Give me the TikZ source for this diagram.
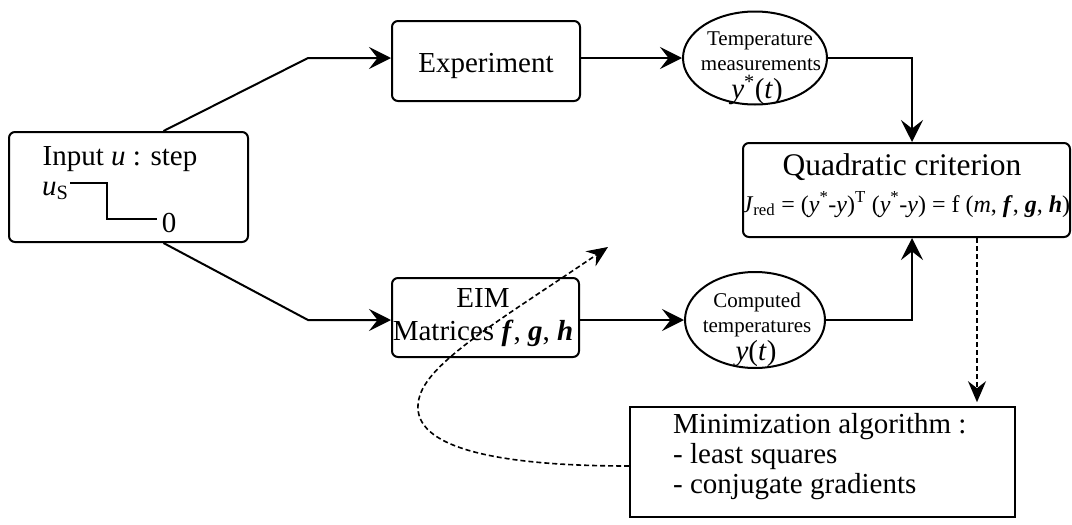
\documentclass[tikz,border=0pt]{standalone}
\usepackage{fontspec}
\setmainfont{Liberation Serif}
\usetikzlibrary{arrows.meta, shapes.geometric, positioning}

\begin{document}
\begin{tikzpicture}[x=1pt, y=-1pt,
	box/.style={draw, line width=2pt, rounded corners=6pt, inner sep=0pt},
	plainbox/.style={draw, line width=1.6pt, inner sep=0pt},
	oval/.style={draw, ellipse, line width=2pt, inner sep=0pt},
	big/.style={font=\fontsize{29}{31}\selectfont, inner sep=0pt},
	small/.style={font=\fontsize{21}{25}\selectfont, inner sep=0pt},
	conn/.style={line width=2pt, -{Stealth[length=22pt, width=22pt, inset=8.5pt]}},
	fbconn/.style={line width=1.6pt, dash pattern=on 5pt off 3pt, -{Stealth[length=21pt, width=18pt, inset=7pt]}}]
	\useasboundingbox (0,0) rectangle (1072,525);
	
	% Input block with the step
	\node[box, minimum width=239pt, minimum height=110pt] (input) at (128.5,187) {};
	\node[big, anchor=base] (inputtxt) at (120,165) {Input \textit{u} : step};
	\node[big, anchor=base west] (us) at (42,195) {\textit{u}\textsubscript{S}};
	\node[big, anchor=base] (zero) at (169,232) {0};
	\draw[line width=2pt] (70,183) -| (107,219) -- (157,219);
	
	% Experiment and EIM
	\node[box, minimum width=188pt, minimum height=80pt] (exp) at (486,61) {};
	\node[big, anchor=base] (exptxt) at (486,72) {Experiment};
	\node[box, minimum width=187pt, minimum height=79pt] (eim) at (485.5,317.5) {};
	\node[big, anchor=base] (eimtxt) at (483,307) {EIM};
	\node[big, anchor=base] (mattxt) at (483,340) {Matrices \textbf{\textit{f}}, \textbf{\textit{g}}, \textbf{\textit{h}}};
	
	% Outputs
	\node[oval, minimum width=144pt, minimum height=93pt] (tempell) at (755,58) {};
	\node[small, anchor=base] (tempa) at (760,45) {Temperature};
	\node[small, anchor=base] (tempb) at (761,70) {measurements};
	\node[big, anchor=base] (tempc) at (757,98) {\textit{y}\textsuperscript{*}(\textit{t})};
	\node[oval, minimum width=140pt, minimum height=96pt] (compell) at (755,320) {};
	\node[small, anchor=base] (compa) at (757,307) {Computed};
	\node[small, anchor=base] (compb) at (757,332) {temperatures};
	\node[big, anchor=base] (compc) at (756,360) {\textit{y}(\textit{t})};
	
	% Criterion and minimization
	\node[box, minimum width=327pt, minimum height=94pt] (quad) at (906.5,190) {};
	\node[font=\fontsize{31.5}{33}\selectfont, inner sep=0pt, anchor=base] (quadtxt) at (902,175) {Quadratic criterion};
	\node[font=\fontsize{24}{26}\selectfont, inner sep=0pt, anchor=base] (crit) at (906,212)
		{\textit{J}\textsubscript{red} = (\textit{y}\textsuperscript{*}-\textit{y})\textsuperscript{T} (\textit{y}\textsuperscript{*}-\textit{y}) = f (\textit{m}, \textbf{\textit{f}}, \textbf{\textit{g}}, \textbf{\textit{h}})};
	\node[plainbox, minimum width=385pt, minimum height=110pt] (minim) at (822.5,462) {};
	\node[big, anchor=base west] (mina) at (673,433) {Minimization algorithm :};
	\node[big, anchor=base west] (minb) at (673,463) {- least squares};
	\node[big, anchor=base west] (minc) at (673,493) {- conjugate gradients};
	
	% Connectors
	\coordinate (uptop) at (308,58);
	\coordinate (upbot) at (308,320);
	\coordinate (fbtip) at (608,247);
	\draw[conn] ([xshift=35pt]input.north) -- (uptop) -- (exp.west |- uptop);
	\draw[conn] ([xshift=35pt]input.south) -- (upbot) -- (eim.west |- upbot);
	\draw[conn] (exp.east |- uptop) -- (tempell.west);
	\draw[conn] (eim.east |- upbot) -- (compell.west);
	\draw[conn] (tempell.east) -| ([xshift=5.5pt]quad.north);
	\draw[conn] (compell.east) -| ([xshift=5.5pt]quad.south);
	\draw[fbconn, shorten >=4pt] ([xshift=70.5pt]quad.south) -- ([xshift=70.5pt]quad.south |- minim.north);
	\draw[fbconn] ([yshift=-4pt]minim.west) .. controls (470,466) and (405,440) .. (420,395)
		.. controls (432,360) and (500,320) .. (fbtip);
\end{tikzpicture}
\end{document}
